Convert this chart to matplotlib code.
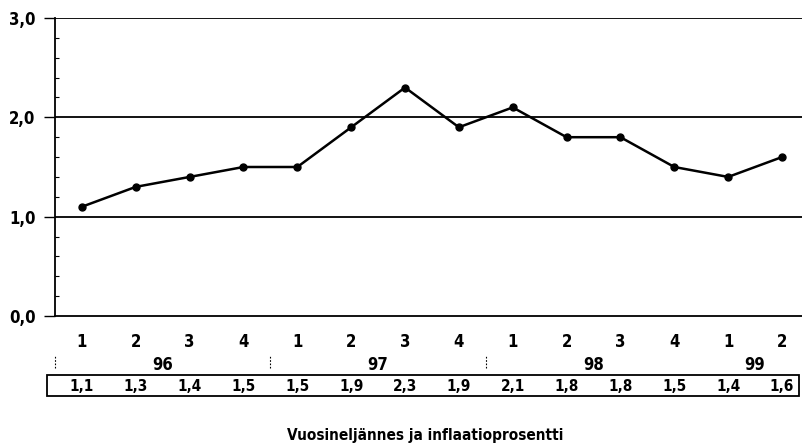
import matplotlib.pyplot as plt
from matplotlib.patches import Rectangle
from matplotlib.ticker import MultipleLocator
import matplotlib.transforms as mtransforms

plt.rcParams['font.family'] = ['Liberation Sans Narrow', 'DejaVu Sans']
plt.rcParams['font.stretch'] = 'condensed'

quarters = ['1', '2', '3', '4', '1', '2', '3', '4', '1', '2', '3', '4', '1', '2']
years = ['96', '97', '98', '99']
year_centers = [1.5, 5.5, 9.5, 12.5]
inflation = [1.1, 1.3, 1.4, 1.5, 1.5, 1.9, 2.3, 1.9, 2.1, 1.8, 1.8, 1.5, 1.4, 1.6]
value_labels = ['1,1', '1,3', '1,4', '1,5', '1,5', '1,9', '2,3', '1,9', '2,1', '1,8', '1,8', '1,5', '1,4', '1,6']
yticks = [0.0, 1.0, 2.0, 3.0]
ytick_labels = ['0,0', '1,0', '2,0', '3,0']

fig = plt.figure(figsize=(8.03, 4.48), dpi=100)
ax = fig.add_axes([55 / 803, 132 / 448, 748 / 803, 298 / 448])

x = list(range(len(inflation)))
ax.plot(x, inflation, color='black', lw=1.8, marker='o', markersize=5, zorder=3)

for yv in yticks[1:]:
    ax.axhline(yv, color='black', lw=1.3, zorder=1)

ax.set_xlim(-0.5, 13.39)
ax.set_ylim(0, 3.0)
ax.spines['right'].set_visible(False)
ax.spines['top'].set_visible(False)
ax.spines['left'].set_linewidth(1.3)
ax.spines['bottom'].set_linewidth(1.3)

ax.set_yticks(yticks)
ax.set_yticklabels(ytick_labels, fontsize=12, fontweight='bold')
ax.yaxis.set_minor_locator(MultipleLocator(0.2))
ax.tick_params(axis='y', which='major', direction='out', length=8, width=1, pad=6)
ax.tick_params(axis='y', which='minor', direction='in', length=3, width=0.8)

ax.set_xticks(x)
ax.set_xticklabels(quarters, fontsize=12, fontweight='bold')
ax.tick_params(axis='x', which='major', length=0, pad=12)

trans = mtransforms.blended_transform_factory(ax.transData, fig.transFigure)
for xc, yr in zip(year_centers, years):
    ax.text(xc, 1 - 365 / 448, yr, transform=trans, ha='center', va='center',
            fontsize=12, fontweight='bold')
for xs in [-0.5, 3.5, 7.5]:
    ax.plot([xs, xs], [1 - 368 / 448, 1 - 356 / 448], transform=trans,
            color='black', lw=0.8, ls=(0, (1.5, 1.5)), clip_on=False)

fig.patches.append(Rectangle((47 / 803, 1 - 396 / 448), 752 / 803, 21 / 448,
                             transform=fig.transFigure, fill=False,
                             edgecolor='black', lw=1.3))
for xi, lab in zip(x, value_labels):
    ax.text(xi, 1 - 386 / 448, lab, transform=trans, ha='center', va='center',
            fontsize=11, fontweight='bold')

fig.text(425 / 803, 1 - 435 / 448, 'Vuosineljännes ja inflaatioprosentti',
         ha='center', va='center', fontsize=11, fontweight='bold')

fig.savefig('out.png', dpi=100)
